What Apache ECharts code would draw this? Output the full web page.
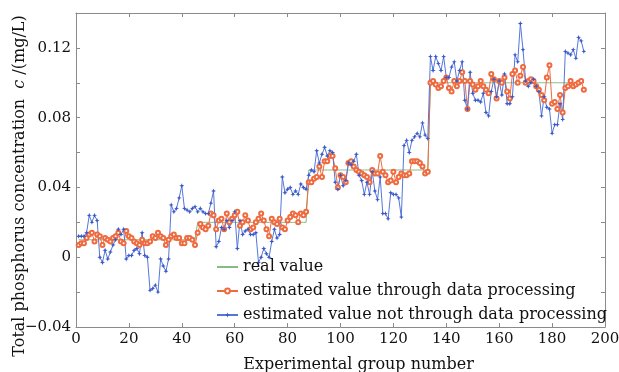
<!DOCTYPE html>
<html>
<head>
<meta charset="utf-8">
<script src="https://cdn.jsdelivr.net/npm/echarts@6/dist/echarts.min.js"></script>
<style>
  html, body { margin: 0; background: #fff; }
  #chart { width: 619px; height: 372px; }
</style>
</head>
<body>
<div id="chart"></div>
<script>
// values, group 1..192
const realValue = [
  0.01, 0.01, 0.01, 0.01, 0.01, 0.01, 0.01, 0.01, 0.01, 0.01,
  0.01, 0.01, 0.01, 0.01, 0.01, 0.01, 0.01, 0.01, 0.01, 0.01,
  0.01, 0.01, 0.01, 0.01, 0.01, 0.01, 0.01, 0.01, 0.01, 0.01,
  0.01, 0.01, 0.01, 0.01, 0.01, 0.01, 0.01, 0.01, 0.01, 0.01,
  0.01, 0.01, 0.01, 0.01, 0.01, 0.02, 0.02, 0.02, 0.02, 0.02,
  0.02, 0.02, 0.02, 0.02, 0.02, 0.02, 0.02, 0.02, 0.02, 0.02,
  0.02, 0.02, 0.02, 0.02, 0.02, 0.02, 0.02, 0.02, 0.02, 0.02,
  0.02, 0.02, 0.02, 0.02, 0.02, 0.02, 0.02, 0.02, 0.02, 0.02,
  0.02, 0.02, 0.02, 0.02, 0.02, 0.02, 0.02, 0.05, 0.05, 0.05,
  0.05, 0.05, 0.05, 0.05, 0.05, 0.05, 0.05, 0.05, 0.05, 0.05,
  0.05, 0.05, 0.05, 0.05, 0.05, 0.05, 0.05, 0.05, 0.05, 0.05,
  0.05, 0.05, 0.05, 0.05, 0.05, 0.05, 0.05, 0.05, 0.05, 0.05,
  0.05, 0.05, 0.05, 0.05, 0.05, 0.05, 0.05, 0.05, 0.05, 0.05,
  0.05, 0.05, 0.05, 0.1, 0.1, 0.1, 0.1, 0.1, 0.1, 0.1,
  0.1, 0.1, 0.1, 0.1, 0.1, 0.1, 0.1, 0.1, 0.1, 0.1,
  0.1, 0.1, 0.1, 0.1, 0.1, 0.1, 0.1, 0.1, 0.1, 0.1,
  0.1, 0.1, 0.1, 0.1, 0.1, 0.1, 0.1, 0.1, 0.1, 0.1,
  0.1, 0.1, 0.1, 0.1, 0.1, 0.1, 0.1, 0.1, 0.1, 0.1,
  0.1, 0.1, 0.1, 0.1, 0.1, 0.1, 0.1, 0.1, 0.1, 0.1,
  0.1, 0.1
];

const processed = [
  0.007, 0.008, 0.008, 0.011, 0.013, 0.014, 0.009, 0.013, 0.012, 0.007,
  0.011, 0.010, 0.009, 0.011, 0.012, 0.014, 0.009, 0.008, 0.015, 0.012,
  0.011, 0.009, 0.008, 0.007, 0.010, 0.008, 0.008, 0.009, 0.012, 0.011,
  0.014, 0.012, 0.011, 0.007, 0.010, 0.012, 0.013, 0.011, 0.011, 0.008,
  0.008, 0.011, 0.011, 0.010, 0.007, 0.014, 0.019, 0.017, 0.016, 0.018,
  0.025, 0.024, 0.016, 0.021, 0.022, 0.016, 0.025, 0.020, 0.022, 0.024,
  0.026, 0.018, 0.020, 0.024, 0.021, 0.016, 0.017, 0.020, 0.022, 0.025,
  0.021, 0.016, 0.012, 0.022, 0.020, 0.019, 0.022, 0.017, 0.016, 0.021,
  0.023, 0.025, 0.024, 0.020, 0.025, 0.024, 0.026, 0.043, 0.043, 0.045,
  0.046, 0.052, 0.046, 0.055, 0.055, 0.058, 0.058, 0.051, 0.040, 0.047,
  0.046, 0.043, 0.054, 0.055, 0.052, 0.050, 0.049, 0.048, 0.047, 0.046,
  0.043, 0.050, 0.048, 0.048, 0.058, 0.049, 0.047, 0.043, 0.044, 0.049,
  0.043, 0.046, 0.048, 0.047, 0.047, 0.048, 0.055, 0.055, 0.055, 0.054,
  0.052, 0.048, 0.049, 0.100, 0.101, 0.099, 0.097, 0.098, 0.101, 0.103,
  0.097, 0.095, 0.101, 0.098, 0.101, 0.106, 0.101, 0.085, 0.101, 0.099,
  0.096, 0.098, 0.101, 0.098, 0.096, 0.094, 0.105, 0.102, 0.091, 0.101,
  0.100, 0.103, 0.095, 0.091, 0.105, 0.107, 0.100, 0.104, 0.109, 0.100,
  0.101, 0.102, 0.101, 0.098, 0.096, 0.093, 0.090, 0.103, 0.110, 0.088,
  0.089, 0.085, 0.093, 0.083, 0.097, 0.098, 0.101, 0.098, 0.099, 0.100,
  0.101, 0.096
];

const unprocessed = [
  0.012, 0.012, 0.012, 0.014, 0.024, 0.020, 0.024, 0.021, 0.000, -0.003,
  0.004, -0.001, 0.003, 0.007, 0.010, 0.016, 0.013, 0.016, -0.001, 0.001,
  0.001, 0.004, 0.005, 0.002, 0.014, 0.001, 0.000, -0.019, -0.018, -0.016,
  -0.020, -0.001, -0.005, -0.008, -0.001, 0.030, 0.026, 0.028, 0.034, 0.041,
  0.028, 0.027, 0.026, 0.028, 0.029, 0.026, 0.028, 0.026, 0.025, 0.025,
  0.031, 0.038, 0.006, 0.009, 0.017, 0.016, 0.021, 0.017, 0.021, 0.026,
  0.005, 0.021, 0.013, 0.015, 0.016, 0.013, 0.013, 0.014, -0.003, 0.000,
  0.005, 0.002, 0.000, 0.009, 0.016, 0.011, 0.013, 0.046, 0.037, 0.039,
  0.040, 0.036, 0.038, 0.036, 0.042, 0.040, 0.039, 0.047, 0.050, 0.049,
  0.061, 0.054, 0.059, 0.063, 0.058, 0.061, 0.060, 0.043, 0.039, 0.047,
  0.041, 0.044, 0.054, 0.053, 0.055, 0.059, 0.047, 0.044, 0.036, 0.043,
  0.036, 0.049, 0.038, 0.033, 0.046, 0.025, 0.025, 0.022, 0.037, 0.036,
  0.036, 0.034, 0.023, 0.064, 0.067, 0.060, 0.067, 0.069, 0.071, 0.069,
  0.077, 0.070, 0.068, 0.115, 0.107, 0.115, 0.111, 0.107, 0.115, 0.103,
  0.103, 0.109, 0.112, 0.101, 0.107, 0.112, 0.090, 0.085, 0.106, 0.094,
  0.090, 0.090, 0.089, 0.094, 0.083, 0.081, 0.095, 0.102, 0.092, 0.101,
  0.093, 0.105, 0.088, 0.088, 0.092, 0.116, 0.112, 0.134, 0.119, 0.101,
  0.098, 0.100, 0.102, 0.098, 0.095, 0.081, 0.092, 0.086, 0.085, 0.071,
  0.076, 0.076, 0.088, 0.079, 0.118, 0.117, 0.116, 0.119, 0.114, 0.126,
  0.124, 0.118
];

const groups = unprocessed.map((v, i) => i + 1);
const pairs = arr => arr.map((v, i) => [groups[i], v]);

const SERIF = 'DejaVu Serif';
const axisColor = '#8a8a8a';

function boxAxis() {
    return {
        axisLine: { show: true, onZero: false, lineStyle: { color: axisColor, width: 1 } },
        axisTick: { show: true, inside: true, length: 4, lineStyle: { color: axisColor } },
        splitLine: { show: false },
        nameMoveOverlap: false
    };
}

let myChart = echarts.init(document.getElementById('chart'));

let option = {
    animation: false,
    backgroundColor: '#fff',
    grid: { left: 76, right: 14, top: 13, bottom: 45, outerBoundsMode: 'none', containLabel: false },
    legend: {
        orient: 'vertical',
        left: 216,
        top: 259,
        padding: 0,
        itemWidth: 21,
        itemHeight: 6,
        itemGap: 8,
        textStyle: { fontFamily: SERIF, fontSize: 16, color: '#111' },
        data: [
            { name: 'real value', itemStyle: { opacity: 0 } },
            'estimated value through data processing',
            'estimated value not through data processing'
        ]
    },
    xAxis: [
        Object.assign({
            type: 'value', min: 0, max: 200, interval: 20,
            axisLabel: { color: '#111', fontFamily: SERIF, fontSize: 15, margin: 5 },
            name: 'Experimental group number',
            nameLocation: 'middle',
            nameGap: 30,
            nameTextStyle: { color: '#111', fontFamily: SERIF, fontSize: 16, padding: [0, 0, 0, 36] }
        }, boxAxis()),
        Object.assign({
            type: 'value', position: 'top', min: 0, max: 200, interval: 20,
            axisLabel: { show: false }
        }, boxAxis())
    ],
    yAxis: [
        Object.assign({
            type: 'value', min: -0.04, max: 0.14, interval: 0.02,
            axisLabel: {
                color: '#111', fontFamily: SERIF, fontSize: 15, margin: 5,
                formatter: function (v) {
                    let k = Math.round(v * 100);
                    if (k % 4 !== 0 || k > 12) return '';
                    if (k === 0) return '0';
                    return (k < 0 ? '\u22120.0' : '0.') + (Math.abs(k) < 10 ? (k < 0 ? Math.abs(k) : '0' + k) : k);
                }
            },
            name: 'Total phosphorus concentration  {i|c} /(mg/L)',
            nameLocation: 'middle',
            nameGap: 48,
            nameTextStyle: {
                color: '#111', fontFamily: SERIF, fontSize: 16, padding: [0, 32, 0, 0],
                rich: { i: { fontStyle: 'italic', fontFamily: SERIF, fontSize: 16, color: '#111' } }
            }
        }, boxAxis()),
        Object.assign({
            type: 'value', position: 'right', min: -0.04, max: 0.14, interval: 0.02,
            axisLabel: { show: false }
        }, boxAxis())
    ],
    series: [
        {
            name: 'real value',
            type: 'line',
            symbol: 'none',
            lineStyle: { color: '#86bb86', width: 1 },
            itemStyle: { color: '#86bb86' },
            data: pairs(realValue)
        },
        {
            name: 'estimated value through data processing',
            type: 'line',
            symbol: 'emptyCircle',
            symbolSize: 4,
            lineStyle: { color: '#ef6a3e', width: 1 },
            itemStyle: { color: '#ef6a3e', borderWidth: 1 },
            data: pairs(processed)
        },
        {
            name: 'estimated value not through data processing',
            type: 'line',
            symbol: 'path://M0,-1L0.28,-0.28L1,0L0.28,0.28L0,1L-0.28,0.28L-1,0L-0.28,-0.28Z',
            symbolSize: 5,
            lineStyle: { color: '#5577da', width: 1 },
            itemStyle: { color: '#3a58c8' },
            data: pairs(unprocessed)
        }
    ]
};

myChart.setOption(option, true);
</script>
</body>
</html>
